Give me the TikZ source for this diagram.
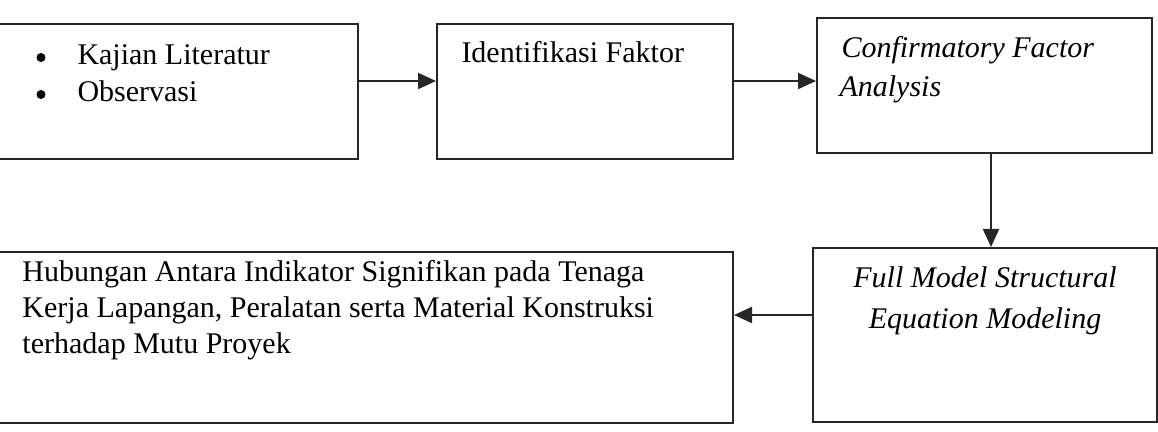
\documentclass[tikz,border=0pt]{standalone}
\usepackage{fontspec}
\setmainfont{Liberation Serif}
\usetikzlibrary{arrows.meta}
\begin{document}
\begin{tikzpicture}[x=0.4pt,y=-0.4pt,
  box/.style={draw=black!85, line width=0.8pt, rectangle, inner sep=0pt},
  txt/.style={inner sep=0pt, anchor=base west, font=\fontsize{12}{14}\selectfont},
  ctxt/.style={inner sep=0pt, anchor=base, font=\fontsize{12}{14}\selectfont\itshape},
  bul/.style={circle, fill=black, inner sep=0pt, minimum size=3.6pt},
  arr/.style={line width=0.8pt, draw=black!85, -{Triangle[length=7.2pt,width=6.4pt]}}]
\useasboundingbox (0,0) rectangle (1158,432);
\node[box, minimum width=147.2pt, minimum height=54pt] (b1) at (174,91.5) {};
\node[box, minimum width=118.4pt, minimum height=54pt] (b2) at (585,91.5) {};
\node[box, minimum width=134pt, minimum height=54pt] (b3) at (984.5,85.5) {};
\node[box, minimum width=297.2pt, minimum height=68.4pt] (b4) at (361.5,337.5) {};
\node[box, minimum width=137.6pt, minimum height=69.6pt] (b5) at (985,335) {};
% texts
\node[bul] (k1) at (41,57.5) {};
\node[txt] (k2) at (77,65) {Kajian Literatur};
\node[bul] (o1) at (41,94.5) {};
\node[txt] (o2) at (77,102) {Observasi};
\node[txt] (t2) at (461,63) {Identifikasi Faktor};
\node[txt] (t3a) at (841,58) {\itshape Confirmatory Factor};
\node[txt] (t3b) at (839,97) {\itshape Analysis};
\node[txt] (t4a) at (22,282) {Hubungan Antara Indikator Signifikan pada Tenaga};
\node[txt] (t4b) at (22,318) {Kerja Lapangan, Peralatan serta Material Konstruksi};
\node[txt] (t4c) at (22,353) {terhadap Mutu Proyek};
\node[ctxt] (t5a) at (985,288) {Full Model Structural};
\node[ctxt] (t5b) at (985,328) {Equation Modeling};
% connectors
\coordinate (r1) at (0,81);
\coordinate (r2) at (0,315);
\coordinate (c3) at (991,0);
\draw[arr] (b1.east |- r1) -- (b2.west |- r1);
\draw[arr] (b2.east |- r1) -- (b3.west |- r1);
\draw[arr] (b3.south -| c3) -- (b5.north -| c3);
\draw[arr] (b5.west |- r2) -- (b4.east |- r2);
\end{tikzpicture}
\end{document}
